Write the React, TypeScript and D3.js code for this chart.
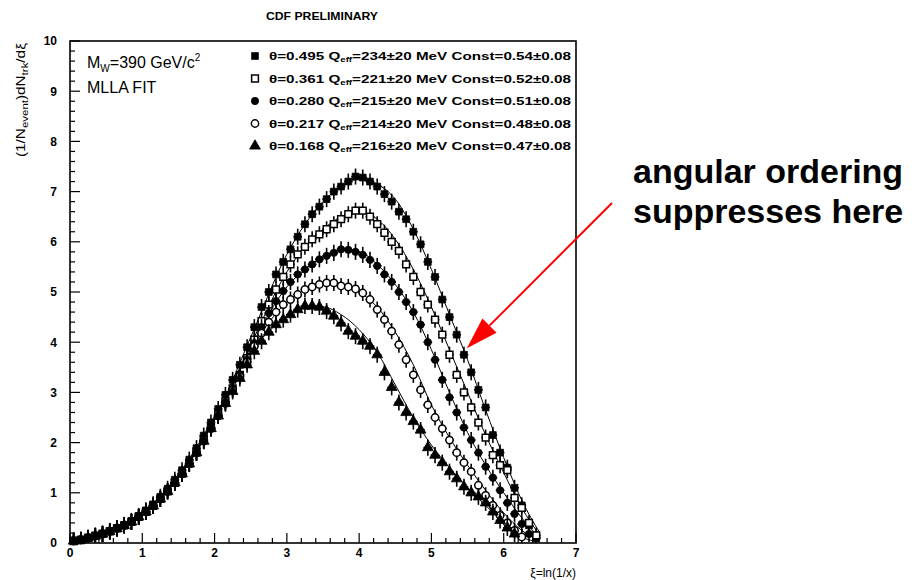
import React from 'react';
import * as d3 from 'd3';

const W = 914;
const H = 580;
const FRAME = { left: 70, right: 576, top: 41, bottom: 543 };

// Bin centres in xi = ln(1/x)
const XI = [
  0.05, 0.15, 0.25, 0.35, 0.45, 0.55, 0.65, 0.75, 0.85, 0.95,
  1.05, 1.15, 1.25, 1.35, 1.45, 1.55, 1.65, 1.75, 1.85, 1.95,
  2.05, 2.15, 2.25, 2.35, 2.45, 2.55, 2.65, 2.75, 2.85, 2.95,
  3.05, 3.15, 3.25, 3.35, 3.45, 3.55, 3.65, 3.75, 3.85, 3.95,
  4.05, 4.15, 4.25, 4.35, 4.45, 4.55, 4.65, 4.75, 4.85, 4.95,
  5.05, 5.15, 5.25, 5.35, 5.45, 5.55, 5.65, 5.75, 5.85, 5.95,
  6.05, 6.15, 6.25, 6.35, 6.45,
];

// Measured (1/N_event) dN_trk/dxi per cone opening angle
const S1_VALUES = [
  0.05, 0.07, 0.11, 0.15, 0.19, 0.24, 0.30, 0.36, 0.44, 0.54,
  0.65, 0.77, 0.92, 1.08, 1.26, 1.45, 1.66, 1.89, 2.14, 2.40,
  2.67, 2.95, 3.25, 3.55, 3.90, 4.30, 4.70, 5.00, 5.35, 5.60,
  5.85, 6.10, 6.35, 6.55, 6.70, 6.85, 7.00, 7.10, 7.20, 7.30,
  7.28, 7.20, 7.10, 6.95, 6.80, 6.60, 6.45, 6.20, 5.95, 5.60,
  5.30, 4.85, 4.50, 4.15, 3.75, 3.40, 3.05, 2.70, 2.15, 1.80,
  1.50, 1.10, 0.75, 0.35, 0.10,
];
const S2_VALUES = [
  0.04, 0.06, 0.10, 0.14, 0.18, 0.23, 0.29, 0.35, 0.42, 0.52,
  0.62, 0.74, 0.88, 1.03, 1.20, 1.38, 1.58, 1.80, 2.05, 2.30,
  2.56, 2.82, 3.08, 3.35, 3.68, 4.05, 4.42, 4.75, 5.05, 5.30,
  5.55, 5.75, 5.90, 6.05, 6.15, 6.25, 6.35, 6.45, 6.55, 6.62,
  6.62, 6.50, 6.35, 6.18, 6.00, 5.82, 5.55, 5.30, 5.00, 4.75,
  4.45, 4.15, 3.75, 3.35, 3.00, 2.70, 2.40, 2.10, 1.75, 1.55,
  1.45, 0.90, 0.70, 0.40, 0.15,
];
const S3_VALUES = [
  0.04, 0.06, 0.10, 0.14, 0.18, 0.23, 0.29, 0.35, 0.42, 0.52,
  0.62, 0.74, 0.88, 1.03, 1.20, 1.38, 1.58, 1.80, 2.03, 2.28,
  2.53, 2.80, 3.07, 3.35, 3.65, 3.98, 4.30, 4.58, 4.82, 5.02,
  5.20, 5.35, 5.45, 5.55, 5.65, 5.72, 5.78, 5.85, 5.84, 5.80,
  5.74, 5.64, 5.52, 5.35, 5.20, 5.00, 4.80, 4.60, 4.35, 4.00,
  3.65, 3.25, 2.90, 2.60, 2.30, 2.05, 1.80, 1.52, 1.30, 1.05,
  0.80, 0.58, 0.38, 0.18,
];
const S4_VALUES = [
  0.04, 0.06, 0.10, 0.14, 0.18, 0.23, 0.29, 0.35, 0.42, 0.52,
  0.62, 0.74, 0.88, 1.03, 1.20, 1.38, 1.58, 1.80, 2.03, 2.28,
  2.53, 2.78, 3.05, 3.32, 3.60, 3.92, 4.18, 4.40, 4.60, 4.75,
  4.85, 4.95, 5.05, 5.10, 5.15, 5.18, 5.18, 5.12, 5.10, 5.06,
  4.98, 4.85, 4.65, 4.45, 4.22, 3.95, 3.65, 3.35, 3.05, 2.75,
  2.50, 2.28, 2.05, 1.80, 1.60, 1.42, 1.15, 0.95, 0.75, 0.55,
  0.40, 0.25, 0.12,
];
const S5_VALUES = [
  0.04, 0.06, 0.10, 0.14, 0.18, 0.23, 0.29, 0.35, 0.42, 0.52,
  0.62, 0.74, 0.88, 1.03, 1.20, 1.38, 1.58, 1.80, 2.03, 2.28,
  2.53, 2.78, 3.02, 3.28, 3.55, 3.82, 4.02, 4.20, 4.35, 4.45,
  4.55, 4.65, 4.72, 4.72, 4.70, 4.62, 4.52, 4.38, 4.22, 4.12,
  4.02, 3.92, 3.75, 3.40, 3.10, 2.80, 2.60, 2.42, 2.25, 1.90,
  1.75, 1.60, 1.42, 1.28, 1.12, 1.00, 0.92, 0.80, 0.62, 0.45,
  0.30, 0.18,
];

// MLLA fit curves, sampled at these xi
const FIT_XI = [0, 0.5, 1, 1.5, 2, 2.5, 3, 3.25, 3.5, 3.75, 4, 4.25, 4.5, 4.75, 5, 5.25, 5.5, 5.75, 6, 6.25, 6.5];
const FIT1 = [0, 0.22, 0.6, 1.3, 2.45, 4.1, 5.75, 6.35, 6.8, 7.1, 7.25, 7.15, 6.85, 6.25, 5.45, 4.55, 3.65, 2.65, 1.7, 0.85, 0.2];
const FIT2 = [0, 0.22, 0.6, 1.3, 2.45, 3.95, 5.4, 5.9, 6.25, 6.5, 6.6, 6.45, 6.05, 5.45, 4.7, 3.85, 3.0, 2.15, 1.4, 0.7, 0.15];
const FIT3 = [0, 0.22, 0.6, 1.3, 2.45, 3.9, 5.1, 5.45, 5.7, 5.83, 5.8, 5.55, 5.15, 4.6, 3.85, 3.0, 2.2, 1.55, 1.0, 0.5, 0.1];
const FIT4 = [0, 0.22, 0.6, 1.3, 2.45, 3.85, 4.8, 5.05, 5.17, 5.15, 5.0, 4.7, 4.2, 3.55, 2.75, 2.1, 1.55, 1.05, 0.6, 0.25, 0.05];
const FIT5 = [0, 0.22, 0.6, 1.3, 2.45, 3.8, 4.5, 4.68, 4.7, 4.55, 4.25, 3.8, 3.15, 2.5, 1.95, 1.5, 1.1, 0.75, 0.4, 0.12, 0.02];

// Legend parameters
const THETA = ['0.495', '0.361', '0.280', '0.217', '0.168'];
const QEFF = ['234', '221', '215', '214', '216'];
const CONST = ['0.54', '0.52', '0.51', '0.48', '0.47'];

const X_TICKS = [0, 1, 2, 3, 4, 5, 6, 7];
const Y_TICKS = [0, 1, 2, 3, 4, 5, 6, 7, 8, 9, 10];

const BIN_HALF = 0.06;
const ERR = 0.16;

type MarkerKind = 'squareFilled' | 'squareOpen' | 'circleFilled' | 'circleOpen' | 'triangleFilled';
const MARKERS: MarkerKind[] = ['squareFilled', 'squareOpen', 'circleFilled', 'circleOpen', 'triangleFilled'];
const SERIES = [S1_VALUES, S2_VALUES, S3_VALUES, S4_VALUES, S5_VALUES];
const FITS = [FIT1, FIT2, FIT3, FIT4, FIT5];

const FONT = '"Liberation Sans", Arial, Helvetica, sans-serif';

function symbolPath(kind: MarkerKind): string {
  const gen = d3.symbol();
  if (kind === 'squareFilled' || kind === 'squareOpen') return gen.type(d3.symbolSquare).size(46)() as string;
  if (kind === 'circleFilled' || kind === 'circleOpen') return gen.type(d3.symbolCircle).size(42)() as string;
  return gen.type(d3.symbolTriangle).size(50)() as string;
}

function Marker({ kind, x, y }: { kind: MarkerKind; x: number; y: number }) {
  const open = kind === 'squareOpen' || kind === 'circleOpen';
  return (
    <path
      d={symbolPath(kind)}
      transform={`translate(${x},${y})`}
      fill={open ? '#fff' : '#000'}
      stroke="#000"
      strokeWidth={open ? 1.5 : 0.8}
    />
  );
}

export default function App() {
  const x = d3.scaleLinear().domain([0, 7]).range([FRAME.left, FRAME.right]);
  const y = d3.scaleLinear().domain([0, 10]).range([FRAME.bottom, FRAME.top]);

  const fitLine = d3
    .line<number>()
    .x((_, i) => x(FIT_XI[i]))
    .y((d) => y(d))
    .curve(d3.curveMonotoneX);

  const xMinor = d3.range(0, 7.0001, 0.2).filter((v) => Math.abs(v - Math.round(v)) > 1e-6);
  const yMinor = d3.range(0, 10.0001, 0.2).filter((v) => Math.abs(v - Math.round(v)) > 1e-6);

  // arrow pointing at the falling edge of the widest-cone distribution
  const tip = { x: x(5.49), y: y(3.88) };
  const tail = { x: 612, y: 203 };
  const ang = Math.atan2(tail.y - tip.y, tail.x - tip.x);
  const headLen = 32;
  const headHalf = 10;
  const bx = tip.x + headLen * Math.cos(ang);
  const by = tip.y + headLen * Math.sin(ang);
  const px = -Math.sin(ang) * headHalf;
  const py = Math.cos(ang) * headHalf;

  return (
    <svg
      width={W}
      height={H}
      viewBox={`0 0 ${W} ${H}`}
      style={{ position: 'absolute', left: 0, top: 0, background: '#fff' }}
      fontFamily={FONT}
    >
      <rect x={0} y={0} width={W} height={H} fill="#fff" />

      {/* title */}
      <text x={322} y={20} fontSize={10.5} fontWeight="bold" textAnchor="middle" fill="#000" textLength={112} lengthAdjust="spacingAndGlyphs">
        CDF PRELIMINARY
      </text>

      {/* fit curves */}
      {FITS.map((f, i) => (
        <path key={`fit${i}`} d={fitLine(f) || ''} fill="none" stroke="#000" strokeWidth={1} />
      ))}

      {/* data points with error bars */}
      {SERIES.map((vals, si) => (
        <g key={`s${si}`}>
          {vals.map((v, i) => {
            const cx = x(XI[i]);
            const cy = y(v);
            return (
              <g key={i}>
                <line x1={x(XI[i] - BIN_HALF)} x2={x(XI[i] + BIN_HALF)} y1={cy} y2={cy} stroke="#000" strokeWidth={1.6} />
                <line x1={cx} x2={cx} y1={y(Math.max(0, v - ERR))} y2={y(v + ERR)} stroke="#000" strokeWidth={1.6} />
                <Marker kind={MARKERS[si]} x={cx} y={cy} />
              </g>
            );
          })}
        </g>
      ))}

      {/* frame */}
      <rect
        x={FRAME.left}
        y={FRAME.top}
        width={FRAME.right - FRAME.left}
        height={FRAME.bottom - FRAME.top}
        fill="none"
        stroke="#000"
        strokeWidth={1.6}
      />

      {/* x axis ticks */}
      {X_TICKS.map((t) => (
        <g key={`xt${t}`}>
          <line x1={x(t)} x2={x(t)} y1={FRAME.bottom} y2={FRAME.bottom - 10} stroke="#000" strokeWidth={1.2} />
          <text x={x(t)} y={557} fontSize={12} fontWeight="bold" textAnchor="middle" fill="#000">
            {t}
          </text>
        </g>
      ))}
      {xMinor.map((t, i) => (
        <line key={`xm${i}`} x1={x(t)} x2={x(t)} y1={FRAME.bottom} y2={FRAME.bottom - 5} stroke="#000" strokeWidth={1.2} />
      ))}

      {/* y axis ticks */}
      {Y_TICKS.map((t) => (
        <g key={`yt${t}`}>
          <line x1={FRAME.left} x2={FRAME.left + 10} y1={y(t)} y2={y(t)} stroke="#000" strokeWidth={1.2} />
          <text x={57} y={y(t) + 4.3} fontSize={12} fontWeight="bold" textAnchor="end" fill="#000">
            {t}
          </text>
        </g>
      ))}
      {yMinor.map((t, i) => (
        <line key={`ym${i}`} x1={FRAME.left} x2={FRAME.left + 5} y1={y(t)} y2={y(t)} stroke="#000" strokeWidth={1.2} />
      ))}

      {/* axis titles */}
      <text x={576} y={577} fontSize={12} textAnchor="end" fill="#000">
        ξ=ln(1/x)
      </text>
      <text
        transform="translate(25,100) rotate(-90)"
        fontSize={12}
        textAnchor="middle"
        fill="#000"
        textLength={114}
        lengthAdjust="spacingAndGlyphs"
      >
        (1/N<tspan fontSize={9} dy={3}>event</tspan>
        <tspan dy={-3}>)dN</tspan>
        <tspan fontSize={9} dy={3}>trk</tspan>
        <tspan dy={-3}>/dξ</tspan>
      </text>

      {/* header text inside frame */}
      <text x={87} y={68} fontSize={16} fill="#000">
        M<tspan fontSize={10} dy={4}>W</tspan>
        <tspan dy={-4}>=390 GeV/c</tspan>
        <tspan fontSize={10} dy={-7}>2</tspan>
      </text>
      <text x={87} y={93} fontSize={16} fill="#000">
        MLLA FIT
      </text>

      {/* legend */}
      {THETA.map((th, i) => {
        const ry = 56 + i * 22.5;
        return (
          <g key={`lg${i}`}>
            <Marker kind={MARKERS[i]} x={255} y={ry} />
            <text
              x={269}
              y={ry + 4}
              fontSize={11}
              fontWeight="bold"
              fill="#000"
              textLength={302}
              lengthAdjust="spacingAndGlyphs"
            >
              θ={th} Q<tspan fontSize={7} dy={2}>eff</tspan>
              <tspan dy={-2}>={QEFF[i]}±20 MeV Const={CONST[i]}±0.08</tspan>
            </text>
          </g>
        );
      })}

      {/* annotation */}
      <line x1={tail.x} y1={tail.y} x2={bx} y2={by} stroke="#ff0000" strokeWidth={2} />
      <polygon points={`${tip.x},${tip.y} ${bx + px},${by + py} ${bx - px},${by - py}`} fill="#ff0000" />
      <text x={633} y={183} fontSize={34} fontWeight="bold" fill="#000">
        angular ordering
      </text>
      <text x={633} y={223} fontSize={34} fontWeight="bold" fill="#000">
        suppresses here
      </text>
    </svg>
  );
}
